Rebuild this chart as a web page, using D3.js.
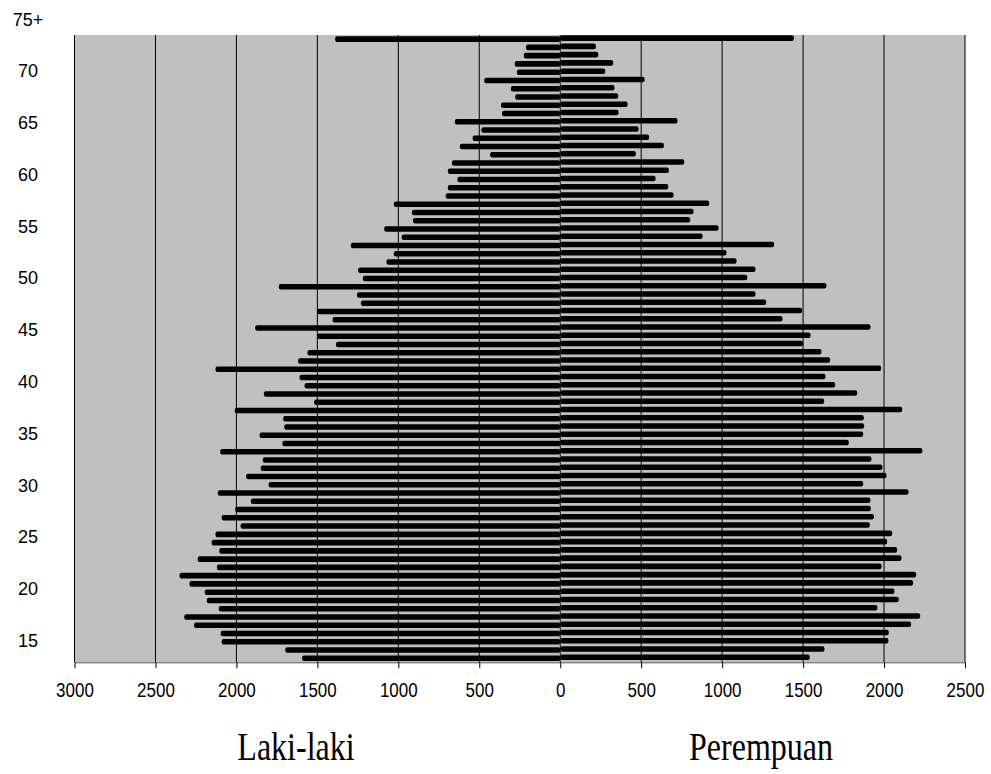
<!DOCTYPE html>
<html>
<head>
<meta charset="utf-8">
<script src="https://cdn.jsdelivr.net/npm/d3@7"></script>
<style>
  body { margin: 0; background: #fff; }
  svg { display: block; }
  .tick text, .age { font-family: "Liberation Sans", Arial, sans-serif; font-size: 17px; fill: #000; }
  .age { font-size: 18px; }
  .sex { font-family: "Liberation Serif", "Times New Roman", serif; font-size: 32px; fill: #000; }
</style>
</head>
<body>
<svg id="chart" width="991" height="774"></svg>
<script>
// rows from the youngest (bottom) to the oldest "75+" (top)
const laki = [
  1594, 1698, 2091, 2097, 2261, 2322, 2109, 2183, 2196, 2290,
  2351, 2120, 2239, 2106, 2153, 2129, 1974, 2091, 2007, 1911,
  2115, 1801, 1940, 1850, 1837, 2100, 1716, 1857, 1704, 1711,
  2010, 1520, 1830, 1579, 1610, 2129, 1619, 1561, 1385, 1500,
  1884, 1406, 1502, 1231, 1255, 1738, 1219, 1248, 1073, 1028,
  1293, 979, 1087, 909, 916, 1028, 707, 694, 635, 694,
  669, 433, 620, 541, 487, 651, 359, 366, 278, 305,
  469, 267, 281, 225, 211, 1390
];
const perempuan = [
  1541, 1632, 2027, 2029, 2167, 2223, 1959, 2091, 2064, 2179,
  2198, 1984, 2107, 2081, 2019, 2050, 1912, 1937, 1918, 1916,
  2151, 1871, 2015, 1990, 1922, 2237, 1782, 1871, 1877, 1875,
  2112, 1630, 1834, 1698, 1638, 1982, 1667, 1613, 1500, 1546,
  1916, 1373, 1494, 1272, 1206, 1644, 1155, 1206, 1089, 1027,
  1321, 879, 978, 803, 823, 920, 700, 667, 589, 671,
  766, 467, 640, 549, 484, 724, 360, 416, 358, 335,
  521, 278, 327, 235, 220, 1443
];
const xTicks = [-3000, -2500, -2000, -1500, -1000, -500, 0, 500, 1000, 1500, 2000, 2500];
const ageTicks = [15, 20, 25, 30, 35, 40, 45, 50, 55, 60, 65, 70];
const ageTop = "75+";
const sexLabels = ["Laki-laki", "Perempuan"];

const svg = d3.select("#chart");
const plotL = 74.5, plotR = 965, plotT = 35, plotB = 662.3;
// the source picture is a little stretched vertically
const tickStretch = 1.15, sexStretch = 1.28;

const x = d3.scaleLinear().domain([-3000, 2500]).range([plotL, plotR]);
const rows = laki.map((d, i) => i);
const y = d3.scaleBand().domain(rows).range([plotB, plotT]).paddingInner(0.33).paddingOuter(0.165);
const age = d3.scaleLinear().domain([15, 70]).range([640.7, 71]);

svg.append("rect")
    .attr("x", plotL).attr("y", plotT)
    .attr("width", plotR - plotL).attr("height", plotB - plotT)
    .attr("fill", "#c0c0c0");

svg.append("g")
  .selectAll("line")
  .data(xTicks)
  .enter().append("line")
    .attr("x1", d => x(d)).attr("x2", d => x(d))
    .attr("y1", plotT).attr("y2", plotB)
    .attr("stroke", "#000")
    .attr("stroke-width", 1);

svg.append("g")
  .selectAll("rect")
  .data(laki)
  .enter().append("rect")
    .attr("x", d => x(-d))
    .attr("y", (d, i) => y(i))
    .attr("width", d => x(0) - x(-d))
    .attr("height", y.bandwidth())
    .attr("rx", 2)
    .attr("fill", "#000");

svg.append("g")
  .selectAll("rect")
  .data(perempuan)
  .enter().append("rect")
    .attr("x", x(0))
    .attr("y", (d, i) => y(i) - 1)
    .attr("width", d => x(d) - x(0))
    .attr("height", y.bandwidth())
    .attr("rx", 2)
    .attr("fill", "#000");

const xAxis = svg.append("g")
    .attr("transform", `translate(0,${plotB})`)
    .call(d3.axisBottom(x)
      .tickValues(xTicks)
      .tickFormat(d => Math.abs(d))
      .tickSize(6)
      .tickSizeOuter(0)
      .tickPadding(12));
xAxis.select(".domain").attr("stroke", "#555");
xAxis.selectAll(".tick line").attr("stroke", "#000");
xAxis.attr("font-family", null).attr("font-size", null);
xAxis.selectAll(".tick text").attr("transform", `scale(1,${tickStretch})`);

svg.append("g")
  .selectAll("text")
  .data(ageTicks)
  .enter().append("text")
    .attr("class", "age")
    .attr("x", 28)
    .attr("y", d => age(d))
    .attr("dy", "0.35em")
    .attr("text-anchor", "middle")
    .text(d => d);

svg.append("text")
    .attr("class", "age")
    .attr("x", 28)
    .attr("y", age(75))
    .attr("dy", "0.35em")
    .attr("text-anchor", "middle")
    .text(ageTop);

svg.selectAll(".sex")
  .data(sexLabels)
  .enter().append("text")
    .attr("class", "sex")
    .attr("transform", `scale(1,${sexStretch})`)
    .attr("x", (d, i) => i === 0 ? 296 : 761)
    .attr("y", 760 / sexStretch)
    .attr("text-anchor", "middle")
    .text(d => d);
</script>
</body>
</html>
